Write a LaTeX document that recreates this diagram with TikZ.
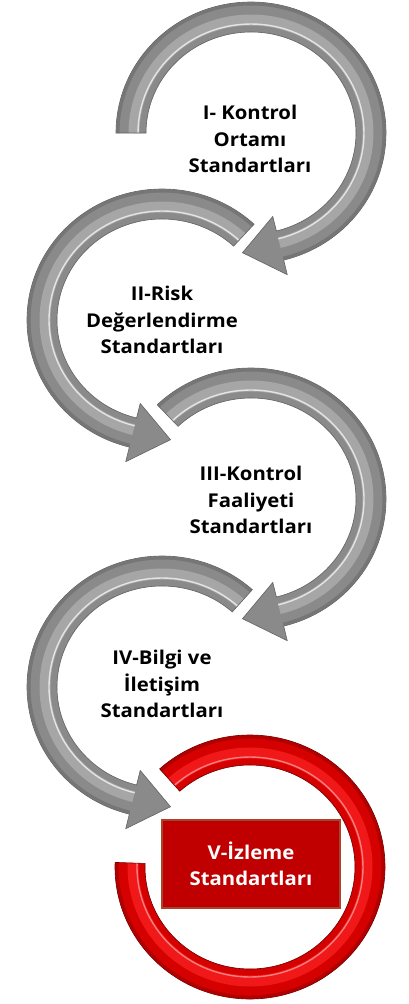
\documentclass[tikz,border=0pt]{standalone}
\usepackage{fontspec}
\setmainfont{Open Sans}
\newfontfamily\labelfont[FakeStretch=1.07]{Open Sans}
\usetikzlibrary{calc}

% outline of a curved arrow around centre #1:
% body from angle #2 to the head base at #3, tip at angle #4
\newcommand\curvedarrowpath[4]{%
  ($(#1)+(#2:135pt and 131pt)$)
  arc[start angle=#2, end angle=#3, x radius=135pt, y radius=131pt]
  -- ($(#1)+(#3:150pt and 146pt)$)
  -- ($(#1)+(#4:122pt and 120pt)$)
  -- ($(#1)+(#3:90pt and 86pt)$)
  -- ($(#1)+(#3:105pt and 101pt)$)
  arc[start angle=#3, end angle=#2, x radius=105pt, y radius=101pt]
  -- cycle}

% ring segment without a head
\newcommand\ringpath[3]{%
  ($(#1)+(#2:135pt and 132pt)$)
  arc[start angle=#2, end angle=#3, x radius=135pt, y radius=132pt]
  -- ($(#1)+(#3:105pt and 102pt)$)
  arc[start angle=#3, end angle=#2, x radius=105pt, y radius=102pt]
  -- cycle}

% shaded grey arrow: centre, start, head base, tip
\newcommand\greyarrow[4]{%
  \fill[shadowfill] [xshift=2pt, yshift=-3pt] \curvedarrowpath{#1}{#2}{#3}{#4};
  \fill[greybody] \curvedarrowpath{#1}{#2}{#3}{#4};
  \begin{scope}
    \clip \curvedarrowpath{#1}{#2}{#3}{#4};
    \draw[greyband] ($(#1)+(#2:117pt and 113pt)$)
      arc[start angle=#2, end angle=#3, x radius=117pt, y radius=113pt];
    \draw[greyshine] ($(#1)+(#2:113pt and 109pt)$)
      arc[start angle=#2, end angle=#3, x radius=113pt, y radius=109pt];
    \draw[greydark] ($(#1)+(#2:133pt and 129pt)$)
      arc[start angle=#2, end angle=#3, x radius=133pt, y radius=129pt];
  \end{scope}
  \draw[greyedge] \curvedarrowpath{#1}{#2}{#3}{#4};
}

\begin{document}
\begin{tikzpicture}[x=1pt, y=1pt,
  shadowfill/.style={fill=black, fill opacity=0.13},
  greybody/.style={fill=arrowgrey},
  greyband/.style={draw=arrowlight, line width=11pt},
  greyshine/.style={draw=white, draw opacity=0.7, line width=1.4pt},
  greydark/.style={draw=arrowdark, line width=3pt},
  greyedge/.style={draw=arrowedge, line width=0.6pt},
  redbody/.style={fill=ringred},
  redband/.style={draw=ringlight, line width=11pt},
  redshine/.style={draw=white, draw opacity=0.45, line width=1.4pt},
  reddark/.style={draw=ringdark, line width=3pt},
  rededge/.style={draw=ringedge, line width=0.6pt},
  lbl/.style={font=\labelfont\bfseries\fontsize{19}{26.5}\selectfont, align=center, text=black, inner sep=0pt},
  boxlbl/.style={font=\labelfont\bfseries\fontsize{19}{26.5}\selectfont, align=center, text=white,
    fill=boxred, draw=boxedge, line width=1.6pt, minimum width=178pt, minimum height=88pt, inner sep=0pt},
]
\definecolor{arrowgrey}{HTML}{8A8A8A}
\definecolor{arrowlight}{HTML}{A6A6A6}
\definecolor{arrowdark}{HTML}{767676}
\definecolor{arrowedge}{HTML}{646464}
\definecolor{ringred}{HTML}{D50000}
\definecolor{ringlight}{HTML}{F01818}
\definecolor{ringdark}{HTML}{B00000}
\definecolor{ringedge}{HTML}{700000}
\definecolor{boxred}{HTML}{C00000}
\definecolor{boxedge}{HTML}{A8442A}

\useasboundingbox (0,0) rectangle (409,-1004);
\fill[white] (0,0) rectangle (409,-1004);

% centres of the five loops
\coordinate (c1) at (251,-133);
\coordinate (c2) at (162,-320);
\coordinate (c3) at (251,-499);
\coordinate (c4) at (162,-687);
\coordinate (c5) at (250,-867);

% grey arrows, top to bottom
\greyarrow{c1}{180}{-76}{-94}
\greyarrow{c2}{47}{256}{274}
\greyarrow{c3}{134}{-76}{-94}
\greyarrow{c4}{48}{256}{274}

% red ring
\fill[shadowfill] [xshift=2pt, yshift=-3pt] \ringpath{c5}{132}{-182};
\fill[redbody] \ringpath{c5}{132}{-182};
\begin{scope}
  \clip \ringpath{c5}{132}{-182};
  \draw[redband] ($(c5)+(132:117pt and 114pt)$)
    arc[start angle=132, end angle=-182, x radius=117pt, y radius=114pt];
  \draw[redshine] ($(c5)+(132:113pt and 110pt)$)
    arc[start angle=132, end angle=-182, x radius=113pt, y radius=110pt];
  \draw[reddark] ($(c5)+(132:133pt and 130pt)$)
    arc[start angle=132, end angle=-182, x radius=133pt, y radius=130pt];
\end{scope}
\draw[rededge] \ringpath{c5}{132}{-182};

% labels
\node[lbl] (t1) at (250,-139) {I- Kontrol\\Ortamı\\Standartları};
\node[lbl] (t2) at (162,-320) {II-Risk\\Değerlendirme\\Standartları};
\node[lbl] (t3) at (251,-500) {III-Kontrol\\Faaliyeti\\Standartları};
\node[lbl] (t4) at (162,-684) {IV-Bilgi ve\\İletişim\\Standartları};
\node[boxlbl] (t5) at (251,-864) {V-İzleme\\Standartları};
\end{tikzpicture}
\end{document}
